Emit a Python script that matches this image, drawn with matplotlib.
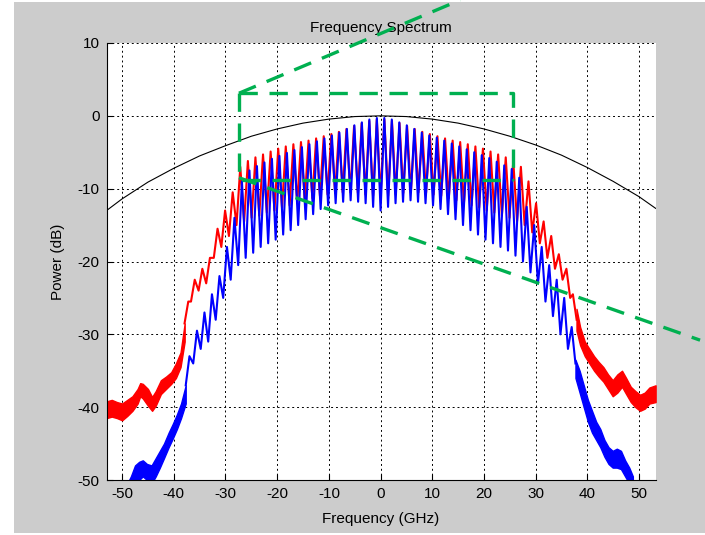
import matplotlib
matplotlib.use("Agg")
import matplotlib.pyplot as plt
from matplotlib.patches import Rectangle

# comb tooth positions (GHz), right half, inner -> outer (left half mirrors)
blue_tooth_r = [0.72, 2.17, 3.62, 5.07, 6.52, 7.97, 9.42, 10.87, 12.32, 13.77, 15.22, 16.67, 18.12,
                19.57, 21.02, 22.47, 23.92, 25.37, 26.82, 28.27, 29.72, 31.17, 32.62, 34.07, 35.52, 36.97]
red_tooth_r = [0.73, 2.20, 3.66, 5.13, 6.60, 8.07, 9.53, 11.00, 12.47, 13.94, 15.40, 16.87, 18.34,
               19.80, 21.27, 22.74, 24.21, 25.67, 27.14, 28.61, 30.08, 31.54, 33.01, 34.48, 35.95, 37.20]
tooth_half = 0.725

# blue trace, comb peaks / troughs (dB), inner -> outer
blue_pk_r = [-0.3, -0.5, -0.9, -1.3, -1.8, -2.3, -2.7, -3.0, -3.4, -3.8, -4.2, -4.6, -5.0,
             -5.4, -5.8, -6.3, -6.8, -7.3, -8.5, -12.5, -15.0, -18.0, -20.5, -22.5, -25.0, -29.0]
blue_tr_r = [-12.5, -12.0, -11.8, -11.6, -11.8, -12.0, -12.3, -12.8, -13.5, -14.2, -15.0, -15.7, -16.3,
             -17.0, -17.5, -18.0, -18.5, -19.2, -20.0, -21.5, -23.0, -25.5, -27.5, -30.0, -32.0, -34.0]
blue_pk_l = [-0.3, -0.5, -0.9, -1.3, -1.8, -2.3, -2.7, -3.1, -3.5, -3.9, -4.3, -4.7, -5.1,
             -5.5, -5.9, -6.4, -6.9, -7.5, -9.0, -14.0, -18.0, -22.0, -24.5, -27.0, -29.5, -33.0]
blue_tr_l = [-12.5, -12.0, -11.8, -11.6, -11.8, -12.0, -12.3, -12.8, -13.5, -14.2, -15.0, -15.7, -16.3,
             -17.0, -17.5, -18.0, -18.8, -19.5, -20.5, -22.5, -25.0, -28.0, -31.0, -32.0, -34.0, -37.0]
blue_center = -13.0

# red trace, comb peaks / troughs (dB)
red_pk_r = [-0.5, -0.7, -1.0, -1.4, -1.8, -2.2, -2.5, -2.8, -3.1, -3.4, -3.6, -3.9, -4.2,
            -4.5, -4.9, -5.3, -5.7, -6.2, -7.0, -9.0, -12.0, -14.5, -16.5, -19.0, -21.0, -24.5]
red_tr_r = [-11.0, -10.8, -10.6, -10.5, -10.5, -10.6, -10.8, -11.0, -11.3, -11.6, -12.0, -12.3, -12.6,
            -13.0, -13.3, -13.7, -14.0, -14.5, -15.0, -16.0, -17.5, -19.5, -21.0, -22.5, -25.0, -28.0]
red_pk_l = [-0.5, -0.7, -1.0, -1.4, -1.8, -2.2, -2.5, -2.8, -3.1, -3.4, -3.6, -3.9, -4.2,
            -4.5, -4.9, -5.3, -5.7, -6.2, -7.0, -10.5, -13.0, -15.5, -19.5, -21.0, -22.5, -25.5]
red_tr_l = [-11.0, -10.8, -10.6, -10.5, -10.5, -10.6, -10.8, -11.0, -11.3, -11.6, -12.0, -12.3, -12.6,
            -13.0, -13.3, -13.7, -14.0, -14.5, -15.0, -16.5, -18.0, -19.5, -23.0, -24.0, -25.5, -28.5]
red_center = -11.0

# noisy skirts: frequency, upper and lower edge of the noise band
red_skirt_l_f = [-53, -52, -51, -50, -49, -48, -47, -46.5, -46, -45, -44.2, -43.5, -42.5, -41.5, -40.5, -39.6, -38.7, -37.9]
red_skirt_l_hi = [-39.2, -39, -39.3, -39.5, -39, -38.5, -37.5, -36.7, -36.8, -37.5, -38.6, -37.8, -36.3, -35.8, -35.2, -34, -32.5, -28.5]
red_skirt_l_lo = [-41.5, -41.3, -41.5, -41.8, -41.2, -40.5, -39.5, -38.5, -38.8, -39.8, -40.5, -39.8, -38.2, -37.5, -36.8, -36, -34.5, -31]
red_skirt_r_f = [37.9, 38.6, 39.5, 40.4, 41.3, 42.2, 43.1, 44, 44.9, 45.8, 46.7, 47.5, 48.4, 49.3, 50.2, 51.1, 52, 53.2]
red_skirt_r_hi = [-26.5, -29, -31, -32, -33, -33.8, -34.5, -35.5, -36.3, -35.5, -35, -36, -37.2, -37.8, -38.3, -38, -37.3, -37]
red_skirt_r_lo = [-29.5, -31.5, -33, -34, -35, -35.8, -36.5, -37.5, -38.5, -38, -37.2, -38.2, -39.3, -40, -40.5, -40.2, -39.5, -39.3]

blue_skirt_l_f = [-49, -48.3, -47.5, -46.7, -46, -45.2, -44.3, -43.5, -42.7, -41.9, -41, -40.2, -39.4, -38.6, -37.7]
blue_skirt_l_hi = [-50.5, -49.5, -48, -47.5, -47.3, -47.8, -48, -47, -46, -45, -43.5, -42.3, -41, -39.5, -37]
blue_skirt_l_lo = [-52, -51, -50.5, -50, -49.5, -50, -50.5, -49.5, -48.3, -47, -45.5, -44.3, -43, -41.5, -39.5]
blue_skirt_r_f = [37.7, 38.5, 39.3, 40.1, 40.9, 41.7, 42.5, 43.3, 44.1, 44.9, 45.7, 46.5, 47.3, 48.1, 48.8]
blue_skirt_r_hi = [-33.5, -35, -37, -39, -40.5, -42, -43, -44.5, -45.5, -46, -45.7, -46, -47.3, -48.3, -49.5]
blue_skirt_r_lo = [-36, -38, -40, -42, -43.5, -44.5, -45.5, -46.8, -47.8, -48.3, -48.3, -48.5, -49.5, -50.5, -51]

# black reference curve
ref_f = [-53, -50, -45, -40, -35, -30, -25, -20, -15, -10, -5, 0, 5, 10, 15, 20, 25, 30, 35, 40, 45, 50, 53.2]
ref_db = [-13.0, -11.4, -9.1, -7.2, -5.5, -4.1, -2.8, -1.8, -1.0, -0.45, -0.1, 0, -0.1, -0.45, -1.0, -1.8, -2.8,
          -4.0, -5.4, -7.1, -9.0, -11.1, -12.7]

# green zoom box and pointer lines (data units)
box_x = [-27.4, 25.6]
box_y = [-8.8, 3.1]
pointer_top = [(-27.4, 3.1), (15.4, 15.9)]
pointer_bot = [(-27.4, -8.5), (61.8, -30.8)]


def comb(teeth, pk_l, tr_l, pk_r, tr_r, center):
    xs, ys = [], []
    for k in range(len(teeth) - 1, -1, -1):
        xs += [-(teeth[k] + tooth_half), -teeth[k]]
        ys += [tr_l[k], pk_l[k]]
    xs.append(0.0)
    ys.append(center)
    for k in range(len(teeth)):
        xs += [teeth[k], teeth[k] + tooth_half]
        ys += [pk_r[k], tr_r[k]]
    return xs, ys


plt.rcParams["font.family"] = ["Liberation Sans", "DejaVu Sans"]
plt.rcParams["font.size"] = 11
plt.rcParams["axes.unicode_minus"] = False

fig = plt.figure(figsize=(7.05, 5.35), dpi=100)
fig.patch.set_facecolor("white")
fig.add_artist(Rectangle((14 / 705, 2 / 535), 691 / 705, 531 / 535, transform=fig.transFigure,
                         facecolor="#cccccc", edgecolor="none", zorder=-10))
ax = fig.add_axes([106.6 / 705, 1 - 480 / 535, 549 / 705, 437 / 535])

for col, teeth, pk_l, tr_l, pk_r, tr_r, cen, skirts in [
    ("red", red_tooth_r, red_pk_l, red_tr_l, red_pk_r, red_tr_r, red_center,
     [(red_skirt_l_f, red_skirt_l_lo, red_skirt_l_hi), (red_skirt_r_f, red_skirt_r_lo, red_skirt_r_hi)]),
    ("blue", blue_tooth_r, blue_pk_l, blue_tr_l, blue_pk_r, blue_tr_r, blue_center,
     [(blue_skirt_l_f, blue_skirt_l_lo, blue_skirt_l_hi), (blue_skirt_r_f, blue_skirt_r_lo, blue_skirt_r_hi)]),
]:
    x, y = comb(teeth, pk_l, tr_l, pk_r, tr_r, cen)
    ax.plot(x, y, color=col, lw=1.5)
    for f, lo, hi in skirts:
        ax.fill_between(f, lo, hi, color=col, lw=1.0)

ax.plot(ref_f, ref_db, color="black", lw=0.8)

green = "#00b050"
gkw = dict(color=green, lw=2.4, dashes=(5.5, 3.5), clip_on=False, zorder=6)
ax.plot([box_x[0], box_x[1], box_x[1]], [box_y[1], box_y[1], box_y[0]], **gkw)
ax.plot([box_x[0], box_x[0], box_x[1]], [box_y[1], box_y[0], box_y[0]], **gkw)
ax.plot([p[0] for p in pointer_top], [p[1] for p in pointer_top], **gkw)
ax.plot([p[0] for p in pointer_bot], [p[1] for p in pointer_bot], **gkw)

ax.set_xlim(-53, 53.2)
ax.set_ylim(-50, 10)
ax.set_xticks(range(-50, 51, 10))
ax.set_yticks(range(-50, 11, 10))
ax.grid(True, color="black", linestyle=(0, (2, 3)), linewidth=0.7)
ax.set_axisbelow(True)
for s in ["top", "right"]:
    ax.spines[s].set_visible(False)
ax.tick_params(direction="in", length=4, pad=5, labelsize=11)
ax.set_xlabel("Frequency (GHz)", fontsize=11, labelpad=8)
ax.set_ylabel("Power (dB)", fontsize=11, labelpad=9)
ax.set_title("Frequency Spectrum", fontsize=11, pad=8)

fig.savefig("out.png", dpi=100)
